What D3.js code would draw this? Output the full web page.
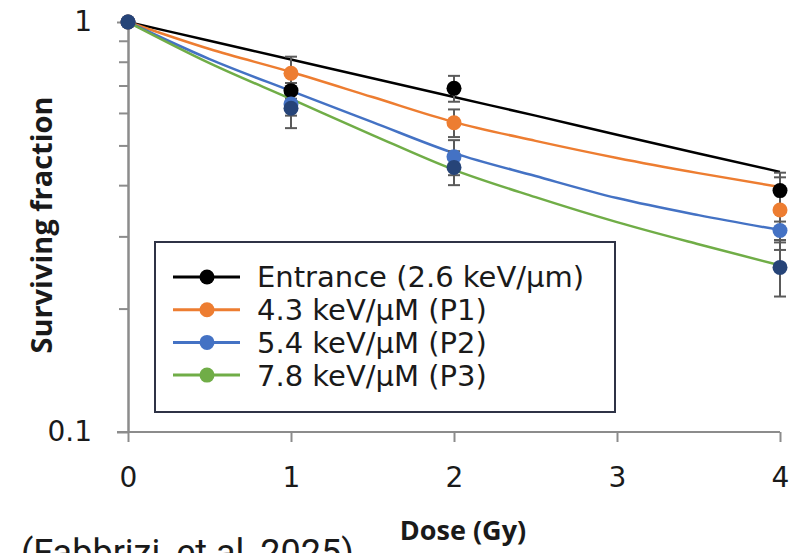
<!DOCTYPE html>
<html>
<head>
<meta charset="utf-8">
<script src="https://cdn.jsdelivr.net/npm/d3@7"></script>
<style>
  body { margin: 0; background: #fff; }
  svg text { font-family: "DejaVu Sans", sans-serif; fill: #1a1a1a; }
</style>
</head>
<body>
<div id="chart"></div>
<script>
// measured doses (Gy)
var doses = [0, 1, 2, 4];
// dose grid for the fitted curves
var curveDoses = [0, 0.5, 1, 1.5, 2, 2.5, 3, 3.5, 4];

var seriesNames = ["Entrance (2.6 keV/\u00b5m)", "4.3 keV/\u00b5M (P1)", "5.4 keV/\u00b5M (P2)", "7.8 keV/\u00b5M (P3)"];

// surviving fraction at each measured dose
var entranceSF = [1, 0.680, 0.689, 0.388];
var p1SF = [1, 0.750, 0.568, 0.348];
var p2SF = [1, 0.631, 0.469, 0.310];
var p3SF = [1, 0.616, 0.442, 0.252];

// error bar half widths
var entranceErr = [0, 0.03, 0.05, 0.041];
var p1Err = [0, 0.073, 0.044, 0.07];
var p2Err = [0, 0.04, 0.046, 0.016];
var p3Err = [0, 0.065, 0.042, 0.038];

// fitted curves, at curveDoses
var entranceFit = [1, 0.900, 0.810, 0.729, 0.656, 0.591, 0.531, 0.478, 0.431];
var p1Fit = [1, 0.859, 0.755, 0.656, 0.570, 0.513, 0.466, 0.428, 0.396];
var p2Fit = [1, 0.812, 0.679, 0.570, 0.479, 0.421, 0.372, 0.338, 0.311];
var p3Fit = [1, 0.794, 0.649, 0.530, 0.436, 0.374, 0.325, 0.287, 0.255];

var yMajor = [0.1, 1];
var yMinor = [0.2, 0.3, 0.4, 0.5, 0.6, 0.7, 0.8, 0.9];
var xTicks = [0, 1, 2, 3, 4];

var lineColors = ["#000000", "#ed7d31", "#4472c4", "#70ad47"];
var markerColors = ["#000000", "#ed7d31", "#4472c4", "#264478"];
var legendMarkers = ["#000000", "#ed7d31", "#4472c4", "#70ad47"];

var series = [
  {sf: entranceSF, err: entranceErr, fit: entranceFit},
  {sf: p1SF, err: p1Err, fit: p1Fit},
  {sf: p2SF, err: p2Err, fit: p2Fit},
  {sf: p3SF, err: p3Err, fit: p3Fit}
];

var width = 810,
    height = 553;

var x = d3.scaleLinear().domain([0, 4]).range([128, 780]);
var y = d3.scaleLog().domain([0.1, 1]).range([432, 22]);

var svg = d3.select("#chart")
  .append("svg")
    .attr("width", width)
    .attr("height", height);

// axes
var xAxis = svg.append("g")
    .attr("transform", "translate(0," + y(0.1) + ")")
    .call(d3.axisBottom(x).tickValues(xTicks).tickFormat(d3.format("d")).tickSize(10).tickPadding(25).tickSizeOuter(0));

var yMinorAxis = svg.append("g")
    .attr("transform", "translate(" + x(0) + ",0)")
    .call(d3.axisLeft(y).tickValues(yMinor).tickFormat("").tickSize(9).tickSizeOuter(0));

var yAxis = svg.append("g")
    .attr("transform", "translate(" + x(0) + ",0)")
    .call(d3.axisLeft(y).tickValues(yMajor).tickFormat(d3.format("")).tickSize(11).tickPadding(25).tickSizeOuter(0));

svg.selectAll(".domain, .tick line")
    .attr("stroke", "#8c8c8c")
    .attr("stroke-width", 2);

svg.selectAll(".tick text")
    .style("font-size", "28px")
    .style("font-family", "'DejaVu Sans', sans-serif")
    .attr("fill", "#1a1a1a");

// extend x axis a little left of the y axis
xAxis.select(".domain").attr("d", "M" + (x(0) - 11) + ",0H" + x(4));

// fitted curves
var line = d3.line()
    .x(function(d) { return x(d[0]); })
    .y(function(d) { return y(d[1]); })
    .curve(d3.curveMonotoneX);

svg.append("g").selectAll("path")
    .data(series)
    .enter().append("path")
      .attr("fill", "none")
      .attr("stroke", function(d, i) { return lineColors[i]; })
      .attr("stroke-width", 2.5)
      .attr("d", function(d) { return line(curveDoses.map(function(c, j) { return [c, d.fit[j]]; })); });

// error bars
var errG = svg.append("g").attr("stroke", "#5a5a5a").attr("stroke-width", 2);
series.forEach(function(s) {
  doses.forEach(function(dose, j) {
    if (!s.err[j]) return;
    var cx = x(dose),
        lo = y(s.sf[j] - s.err[j]),
        hi = y(s.sf[j] + s.err[j]);
    errG.append("line").attr("x1", cx).attr("x2", cx).attr("y1", lo).attr("y2", hi);
    errG.append("line").attr("x1", cx - 6).attr("x2", cx + 6).attr("y1", lo).attr("y2", lo);
    errG.append("line").attr("x1", cx - 6).attr("x2", cx + 6).attr("y1", hi).attr("y2", hi);
  });
});

// markers
series.forEach(function(s, i) {
  svg.append("g").selectAll("circle")
    .data(doses)
    .enter().append("circle")
      .attr("cx", function(d) { return x(d); })
      .attr("cy", function(d, j) { return y(s.sf[j]); })
      .attr("r", 7.5)
      .attr("fill", markerColors[i]);
});

// legend
var legend = svg.append("g");
legend.append("rect")
    .attr("x", 155)
    .attr("y", 242)
    .attr("width", 460)
    .attr("height", 170)
    .attr("fill", "#fff")
    .attr("stroke", "#2f3346")
    .attr("stroke-width", 2);

var rows = legend.selectAll("g.row")
    .data(seriesNames)
    .enter().append("g")
      .attr("class", "row")
      .attr("transform", function(d, i) { return "translate(0," + (277 + i * 32.7) + ")"; });

rows.append("line")
    .attr("x1", 173).attr("x2", 240)
    .attr("stroke", function(d, i) { return lineColors[i]; })
    .attr("stroke-width", 3);

rows.append("circle")
    .attr("cx", 207)
    .attr("r", 7.5)
    .attr("fill", function(d, i) { return legendMarkers[i]; });

rows.append("text")
    .attr("x", 257)
    .attr("dy", "0.36em")
    .style("font-size", "29px")
    .text(function(d) { return d; });

// axis titles
svg.append("text")
    .attr("transform", "translate(52,225) rotate(-90)")
    .attr("text-anchor", "middle")
    .style("font-family", "'Open Sans', sans-serif")
    .style("font-size", "29px")
    .style("font-weight", "bold")
    .text("Surviving fraction");

svg.append("text")
    .attr("x", 463)
    .attr("y", 540)
    .attr("text-anchor", "middle")
    .style("font-family", "'Open Sans', sans-serif")
    .style("font-size", "27px")
    .style("font-weight", "bold")
    .text("Dose (Gy)");

svg.append("text")
    .attr("x", 21)
    .attr("y", 565)
    .style("font-size", "36px")
    .style("font-family", "Roboto, sans-serif")
    .text("(Fabbrizi, et al, 2025)");
</script>
</body>
</html>
